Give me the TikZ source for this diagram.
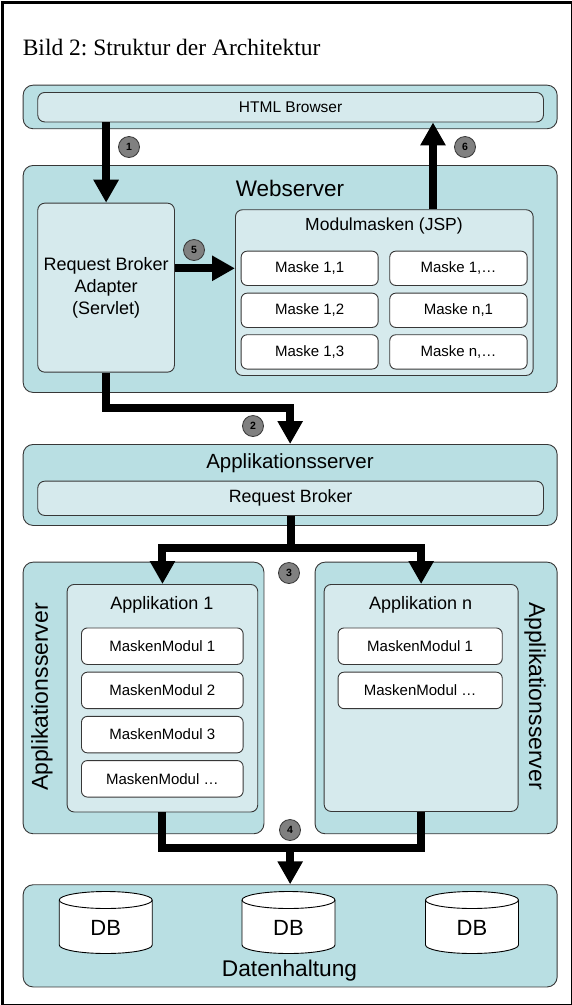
\documentclass[tikz,border=0pt]{standalone}
\usepackage{fontspec}
\setmainfont{Liberation Sans}
\newfontfamily\titlefont{Liberation Serif}
\usetikzlibrary{arrows.meta}
\definecolor{outerfill}{RGB}{185,223,227}
\definecolor{innerfill}{RGB}{214,234,237}
\definecolor{edgecol}{RGB}{55,55,55}
\definecolor{badgecol}{RGB}{128,128,128}
\newcommand{\fs}[1]{\fontsize{#1}{#1}\selectfont}
\frenchspacing
\begin{document}
\begin{tikzpicture}[x=1pt,y=-1pt,
  box/.style={draw=edgecol, line width=0.9pt, rectangle, inner sep=0pt, anchor=north west},
  outerbox/.style={box, fill=outerfill, rounded corners=10pt},
  innerbox/.style={box, fill=innerfill, rounded corners=7pt},
  whitebox/.style={box, fill=white, rounded corners=6pt, font=\fs{15}},
  lbl/.style={anchor=base, inner sep=0pt},
  arr/.style={line width=8pt, draw=black, -{Triangle[width=24pt,length=23pt]}},
  shaft/.style={line width=8pt, draw=black},
  badge/.style={circle, draw=edgecol, fill=badgecol, line width=0.8pt, minimum size=21pt, inner sep=0pt, font=\bfseries\fs{10.5}}
]
\useasboundingbox (0,0) rectangle (572,1005);
\node[draw, line width=2.5pt, minimum width=569.5pt, minimum height=1002.5pt, anchor=north west, inner sep=0pt] (frame) at (1.25,1.25) {};

\node[anchor=base west, inner sep=0pt, font=\titlefont\fs{23.5}] (title) at (22.6,55) {Bild 2: Struktur der Architektur};

% HTML Browser
\node[outerbox, minimum width=534pt, minimum height=43.6pt] (htmlo) at (22.7,84.7) {};
\node[innerbox, minimum width=505.7pt, minimum height=29.5pt, font=\fs{15.5}] (html) at (37.3,92) {HTML Browser};

% Webserver
\node[outerbox, minimum width=534pt, minimum height=227pt] (webo) at (22.7,165) {};
\node[lbl, font=\fs{22.5}] (weblbl) at (290,196.7) {Webserver};
\node[innerbox, minimum width=136.7pt, minimum height=169pt, align=center, font=\fontsize{18}{21.7}\selectfont] (rba) at (37.3,202.7) {Request Broker\\Adapter\\(Servlet)};
\node[innerbox, minimum width=297.7pt, minimum height=165.7pt] (mm) at (235,209.3) {};
\node[lbl, font=\fs{17.5}] (mmlbl) at (384,230) {Modulmasken (JSP)};
\node[whitebox, minimum width=137pt, minimum height=34.3pt] (m11) at (240.7,250.7) {Maske 1,1};
\node[whitebox, minimum width=137pt, minimum height=34.3pt] (m12) at (240.7,292.7) {Maske 1,2};
\node[whitebox, minimum width=137pt, minimum height=34.3pt] (m13) at (240.7,334.3) {Maske 1,3};
\node[whitebox, minimum width=137.4pt, minimum height=34.3pt] (m1x) at (389.3,250.7) {Maske 1,…};
\node[whitebox, minimum width=137.4pt, minimum height=34.3pt] (mn1) at (389.3,292.7) {Maske n,1};
\node[whitebox, minimum width=137.4pt, minimum height=34.3pt] (mnx) at (389.3,334.3) {Maske n,…};

% Applikationsserver (top)
\node[outerbox, minimum width=534pt, minimum height=81pt] (appo) at (22.7,444) {};
\node[lbl, font=\fs{20.5}] (appolbl) at (290,468.5) {Applikationsserver};
\node[innerbox, minimum width=505.7pt, minimum height=34.3pt, font=\fs{17.8}] (rb) at (37.3,480.7) {Request Broker};

% Application servers
\node[outerbox, minimum width=240.8pt, minimum height=271.6pt] (asl) at (22.7,561.7) {};
\node[outerbox, minimum width=242.1pt, minimum height=271.6pt] (asr) at (314.6,561.7) {};
\node[font=\fs{23}, rotate=90, inner sep=0pt] (asllbl) at (42,697) {Applikationsserver};
\node[font=\fs{23}, rotate=-90, inner sep=0pt] (asrlbl) at (535,696) {Applikationsserver};
\node[innerbox, minimum width=190.6pt, minimum height=227.5pt] (app1) at (66.7,584) {};
\node[innerbox, minimum width=194pt, minimum height=227pt] (appn) at (323.7,584) {};
\node[lbl, font=\fs{18}] (app1lbl) at (162,609) {Applikation 1};
\node[lbl, font=\fs{18}] (appnlbl) at (420.7,609) {Applikation n};
\node[whitebox, minimum width=161.7pt, minimum height=36.5pt] (l1) at (81,627.5) {MaskenModul 1};
\node[whitebox, minimum width=161.7pt, minimum height=36.5pt] (l2) at (81,671.7) {MaskenModul 2};
\node[whitebox, minimum width=161.7pt, minimum height=36.5pt] (l3) at (81,715.9) {MaskenModul 3};
\node[whitebox, minimum width=161.7pt, minimum height=36.5pt] (l4) at (81,760.1) {MaskenModul …};
\node[whitebox, minimum width=164.2pt, minimum height=36.5pt] (r1) at (337.6,627.5) {MaskenModul 1};
\node[whitebox, minimum width=164.2pt, minimum height=36.5pt] (r2) at (337.6,671.7) {MaskenModul …};

% Datenhaltung
\node[outerbox, minimum width=534pt, minimum height=102.2pt] (dh) at (22.7,884.3) {};
\node[lbl, font=\fs{22.7}] (dhlbl) at (289.5,976.7) {Datenhaltung};
\foreach \cx/\nm in {105.75/db1, 288.5/db2, 472/db3} {
  \filldraw[fill=white, draw=black, line width=0.9pt]
    (\cx-46.5,900) -- (\cx-46.5,945)
    arc[start angle=180, end angle=360, x radius=46.5pt, y radius=8.5pt]
    -- (\cx+46.5,900)
    arc[start angle=0, end angle=180, x radius=46.5pt, y radius=8.5pt] -- cycle;
  \draw[black, line width=0.9pt] (\cx-46.5,900)
    arc[start angle=180, end angle=360, x radius=46.5pt, y radius=8.5pt];
  \node[font=\fs{22}, inner sep=0pt] (\nm) at (\cx,928) {DB};
}

% connectors
\coordinate (c6) at (433,0);
\coordinate (c2) at (0,407.5);
\coordinate (c3) at (0,548);
\coordinate (c4) at (0,847.5);
\draw[arr] (html.south -| rba.north) -- (rba.north);
\draw[arr] (mm.north -| c6) -- (html.south -| c6);
\draw[arr] (rba.east |- m11.west) -- (mm.west |- m11.west);
\draw[arr] (rba.south) -- (rba.south |- c2) -| (appo.north);
\draw[arr] (rb.south) -- (rb.south |- c3) -| (app1.north);
\draw[arr] (rb.south |- c3) -| (appn.north);
\draw[shaft] (app1.south) -- (app1.south |- c4) -| (appn.south);
\draw[arr] (dh.north |- c4) -- (dh.north);

% step badges
\node[badge] (b1) at (129,147) {1};
\node[badge] (b6) at (465,147) {6};
\node[badge] (b5) at (194,250) {5};
\node[badge] (b2) at (253,426) {2};
\node[badge] (b3) at (289,573) {3};
\node[badge] (b4) at (290,830) {4};
\end{tikzpicture}
\end{document}
